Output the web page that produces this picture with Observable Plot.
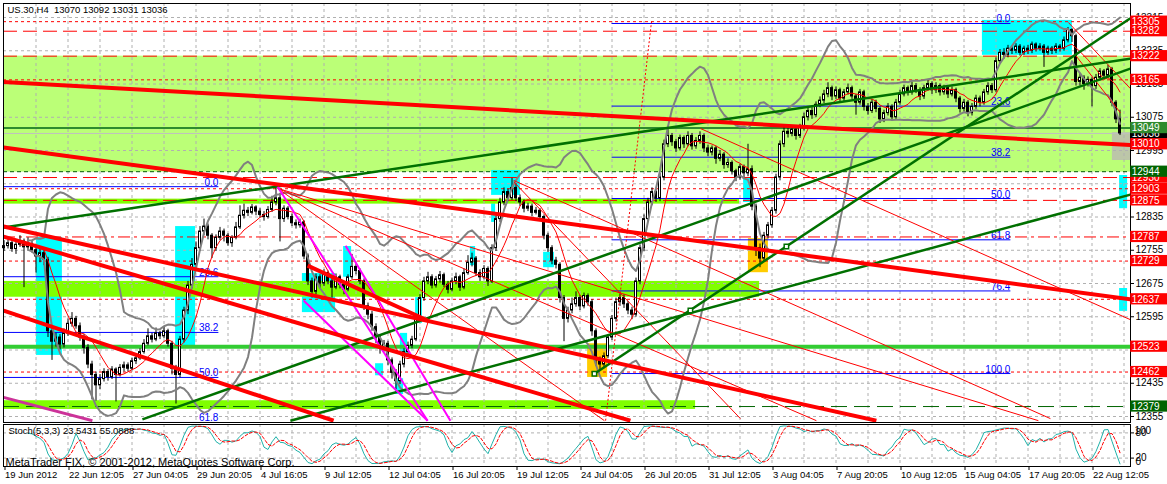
<!DOCTYPE html>
<html>
<head>
<meta charset="utf-8">
<script src="https://cdn.jsdelivr.net/npm/d3@7"></script>
<script src="https://cdn.jsdelivr.net/npm/@observablehq/plot@0.6"></script>
<style>
  body { margin: 0; background: #fff; }
  #chart svg { display: block; }
</style>
</head>
<body>
<div id="chart"></div>
<script>
// H4 bars of US.30, 19 Jun - 23 Aug 2012 (one row = 16 bars)
const open = [
 12760,12765,12772,12758,12768,12776,12762,12770,12755,12740,12748,12732,12560,12535,12545,12528,
 12555,12578,12590,12572,12545,12520,12480,12455,12430,12445,12462,12450,12468,12455,12472,12478,
 12470,12488,12495,12510,12530,12548,12540,12555,12548,12560,12530,12470,12455,12540,12610,12670,
 12720,12760,12800,12812,12790,12760,12785,12800,12790,12772,12785,12810,12838,12850,12845,12858,
 12848,12840,12835,12852,12870,12880,12830,12855,12835,12820,12815,12822,12740,12680,12655,12690,
 12675,12700,12680,12665,12690,12672,12660,12690,12715,12705,12680,12620,12600,12570,12545,12520,
 12530,12490,12460,12440,12480,12510,12525,12540,12590,12640,12680,12690,12670,12685,12695,12672,
 12660,12680,12690,12665,12700,12725,12735,12700,12690,12710,12680,12760,12830,12870,12895,12880,
 12905,12880,12870,12855,12860,12845,12850,12835,12790,12760,12730,12720,12640,12590,12610,12625,
 12640,12620,12645,12630,12560,12490,12480,12500,12545,12590,12630,12640,12625,12610,12600,12680,
 12760,12830,12870,12895,12880,12930,13010,13030,13015,13000,13025,13010,13030,13005,13018,13030,
 13000,12990,13000,12975,12985,12960,12965,12945,12930,12955,12940,12950,12860,12760,12735,12790,
 12815,12850,12930,13010,13040,13035,13045,13030,13050,13075,13090,13080,13105,13115,13130,13145,
 13125,13140,13120,13135,13145,13125,13110,13135,13100,13090,13110,13095,13070,13085,13100,13075,
 13110,13130,13145,13135,13150,13140,13125,13145,13155,13140,13150,13135,13145,13130,13140,13120,
 13095,13110,13085,13100,13120,13110,13135,13150,13140,13210,13230,13225,13240,13235,13245,13230,
 13240,13235,13250,13240,13245,13230,13240,13235,13245,13240,13260,13285,13270,13160,13170,13155,
 13165,13150,13170,13185,13175,13190,13110,13070
];
const high = [
 12778,12780,12781,12774,12790,12782,12785,12776,12760,12758,12755,12738,12570,12555,12552,12566,
 12590,12605,12596,12580,12552,12528,12488,12462,12456,12470,12468,12475,12472,12480,12486,12484,
 12495,12502,12518,12540,12566,12555,12568,12560,12570,12565,12536,12478,12548,12618,12680,12735,
 12775,12812,12830,12818,12795,12792,12810,12806,12795,12790,12822,12862,12866,12858,12865,12862,
 12855,12848,12860,12885,12904,12892,12862,12860,12842,12828,12830,12826,12746,12688,12698,12696,
 12708,12705,12686,12698,12695,12680,12696,12745,12722,12710,12686,12628,12608,12578,12552,12538,
 12536,12496,12468,12488,12518,12534,12548,12598,12648,12690,12702,12696,12692,12704,12700,12680,
 12688,12700,12695,12710,12742,12748,12740,12708,12718,12715,12768,12838,12880,12905,12902,12928,
 12915,12888,12876,12868,12866,12858,12855,12840,12796,12766,12738,12725,12646,12618,12640,12655,
 12646,12652,12650,12636,12566,12498,12508,12552,12598,12640,12650,12648,12632,12618,12688,12768,
 12840,12880,12905,12902,12940,13020,13045,13036,13022,13032,13030,13040,13036,13026,13040,13035,
 13008,13006,13005,12995,12990,12975,12970,12950,12962,12960,13010,12958,12866,12770,12798,12822,
 12858,12938,13018,13050,13048,13055,13050,13058,13085,13100,13098,13112,13124,13140,13158,13150,
 13148,13145,13142,13155,13150,13130,13142,13140,13108,13118,13116,13100,13092,13108,13105,13118,
 13140,13152,13150,13160,13156,13146,13152,13165,13160,13158,13155,13152,13150,13148,13145,13125,
 13118,13115,13108,13128,13126,13142,13158,13156,13218,13238,13240,13248,13246,13252,13250,13246,
 13248,13256,13254,13252,13250,13246,13245,13252,13250,13268,13291,13288,13275,13180,13175,13172,
 13170,13178,13192,13190,13200,13195,13115,13092
];
const low = [
 12752,12758,12750,12745,12762,12665,12756,12748,12700,12725,12718,12545,12490,12522,12515,12520,
 12548,12570,12565,12536,12505,12470,12395,12392,12420,12438,12440,12444,12390,12450,12462,12462,
 12465,12480,12490,12505,12525,12532,12535,12540,12542,12522,12455,12385,12448,12532,12600,12662,
 12712,12752,12790,12780,12735,12752,12778,12775,12765,12762,12780,12805,12830,12836,12840,12838,
 12832,12825,12830,12846,12862,12775,12822,12828,12812,12806,12808,12732,12670,12640,12648,12662,
 12668,12672,12640,12660,12662,12648,12655,12685,12696,12672,12610,12588,12560,12530,12505,12510,
 12478,12445,12420,12432,12472,12502,12518,12535,12582,12632,12672,12662,12664,12676,12665,12650,
 12655,12672,12656,12660,12695,12715,12692,12680,12684,12668,12675,12752,12822,12862,12872,12875,
 12872,12860,12845,12848,12836,12840,12826,12780,12750,12720,12710,12628,12535,12580,12602,12618,
 12610,12614,12620,12548,12476,12466,12470,12494,12538,12582,12620,12615,12600,12588,12594,12672,
 12752,12822,12862,12870,12872,12922,13002,13005,12990,12994,13000,13004,12996,12998,13010,12990,
 12980,12982,12962,12968,12950,12952,12936,12920,12924,12930,12932,12850,12740,12713,12728,12782,
 12808,12842,12922,13002,13025,13028,13020,13024,13042,13066,13070,13074,13098,13108,13122,13115,
 13118,13110,13112,13128,13118,13080,13104,13090,13080,13084,13086,13060,13062,13078,13066,13070,
 13104,13124,13126,13128,13132,13115,13118,13138,13130,13132,13126,13128,13120,13124,13110,13085,
 13088,13076,13078,13094,13100,13104,13128,13132,13134,13202,13215,13218,13226,13228,13222,13224,
 13226,13228,13232,13234,13195,13224,13226,13228,13232,13234,13254,13255,13150,13150,13140,13148,
 13100,13142,13162,13166,13168,13100,13060,13031
];
const close = [
 12765,12772,12758,12768,12776,12762,12770,12755,12740,12748,12732,12560,12535,12545,12528,12555,
 12578,12590,12572,12545,12520,12480,12455,12430,12445,12462,12450,12468,12455,12472,12478,12470,
 12488,12495,12510,12530,12548,12540,12555,12548,12560,12530,12470,12455,12540,12610,12670,12720,
 12760,12800,12812,12790,12760,12785,12800,12790,12772,12785,12810,12838,12850,12845,12858,12848,
 12840,12835,12852,12870,12880,12830,12855,12835,12820,12815,12822,12740,12680,12655,12690,12675,
 12700,12680,12665,12690,12672,12660,12690,12715,12705,12680,12620,12600,12570,12545,12520,12530,
 12490,12460,12440,12480,12510,12525,12540,12590,12640,12680,12690,12670,12685,12695,12672,12660,
 12680,12690,12665,12700,12725,12735,12700,12690,12710,12680,12760,12830,12870,12895,12880,12905,
 12880,12870,12855,12860,12845,12850,12835,12790,12760,12730,12720,12640,12590,12610,12625,12640,
 12620,12645,12630,12560,12490,12480,12500,12545,12590,12630,12640,12625,12610,12600,12680,12760,
 12830,12870,12895,12880,12930,13010,13030,13015,13000,13025,13010,13030,13005,13018,13030,13000,
 12990,13000,12975,12985,12960,12965,12945,12930,12955,12940,12950,12860,12760,12735,12790,12815,
 12850,12930,13010,13040,13035,13045,13030,13050,13075,13090,13080,13105,13115,13130,13145,13125,
 13140,13120,13135,13145,13125,13110,13135,13100,13090,13110,13095,13070,13085,13100,13075,13110,
 13130,13145,13135,13150,13140,13125,13145,13155,13140,13150,13135,13145,13130,13140,13120,13095,
 13110,13085,13100,13120,13110,13135,13150,13140,13210,13230,13225,13240,13235,13245,13230,13240,
 13235,13250,13240,13245,13230,13240,13235,13245,13240,13260,13285,13270,13160,13170,13155,13165,
 13150,13170,13185,13175,13190,13110,13070,13036
];

// one time label every 16 bars
const timeLabels = ["19 Jun 2012","22 Jun 12:05","27 Jun 04:05","29 Jun 20:05","4 Jul 16:05",
  "9 Jul 12:05","12 Jul 04:05","16 Jul 20:05","19 Jul 12:05","24 Jul 04:05","26 Jul 20:05",
  "31 Jul 12:05","3 Aug 04:05","7 Aug 20:05","10 Aug 12:05","15 Aug 04:05","17 Aug 20:05","22 Aug 12:05"];
const priceTicks = [13315,13235,13155,13075,12995,12915,12835,12755,12675,12595,12515,12435,12355];
// 12915 and 12515 sit fully under price tags on the reference
const priceTickLabels = [13315,13235,13155,13075,12995,12835,12755,12675,12595,12435,12355];

// horizontal lines
const redDotLevels = [13305,13165,12903,12729,12637,12462];
const redDashLevels = [13282,13222,12930,12875];
const redDashDotLevels = [12787];
const greenLevel = [13049];
const greenDashLevels = [12944];
const greenLongDashLevels = [12379];
const limeLevel = [12523];
const bidLevel = [13036];

// price tags on the right
const redTags = [13305,13282,13222,13165,13010,12930,12903,12875,12787,12729,12637,12523,12462];
const greenTags = [13049];
const darkGreenTags = [12944,12379];

// zones [bar from, bar to, price low, price high]
const bigZone = [[-1, 283, 12943, 13222]];
const limeZones = [[-1, 183.9, 12866, 12878], [-1, 188.9, 12642, 12680], [-1, 172.9, 12372, 12393]];
const cyanBoxes = [
  [8.1,14.6,12502,12786],[42.9,47.9,12521,12812],[74.6,82.9,12605,12699],[84.9,86.9,12690,12764],
  [92.9,94.9,12453,12482],[97.9,99.9,12408,12446],[99.1,100.9,12502,12555],[102.9,104.6,12579,12641],
  [116.6,117.9,12718,12764],[121.9,129.1,12887,12947],[121.9,122.9,12822,12867],[134.9,137.6,12713,12750],
  [184.9,186.9,12870,12930],[244.6,267.1,13224,13308],[278.9,280.9,12855,12935],[278.9,280.9,12608,12663]
];
const orangeBoxes = [[186.1,191.1,12701,12783],[145.9,150.9,12449,12530]];
const grayBoxes = [[277.1,282,12971,13038]];

// trend lines [bar, price, bar, price]
const thickRed = [
  [-0.1,13160,281.6,13008],[-0.1,13002,281.6,12637],[-0.1,12812,218.1,12345],
  [-0.1,12610,82.4,12345],[-0.1,12788,156.6,12345],[75.9,12718,105.9,12586]
];
const thinRed = [
  [68.4,12904,203.1,12345],[68.4,12904,258.6,12345],[68.4,12904,150.1,12345],
  [174.1,13048,281.6,12588],[127.4,12923,261.6,12350],[127.4,12920,184.1,12350],
  [266.1,13303,281.6,13144],[267.9,13224,279.1,13086]
];
const dottedRed = [[150.4,12345,161.9,13307]];
const greenTrend = [
  [-0.1,12810,281.6,13216],[34.6,12348,281.6,13192],[147.6,12458,281.6,13313],[71.6,12345,281.6,12889]
];
const greenMarks = [[147.6,12458],[171.6,12610],[195.6,12764]];
const magentaLines = [[68.4,12908,105.9,12345],[85.4,12766,111.6,12345],[74.9,12634,105.9,12345]];
const purpleLines = [[-0.1,12401,22.1,12345]];

// Fibonacci retracements
const fib1Levels = [0, 23.6, 38.2, 50, 61.8];
const fib1Span = [-0.1, 53.6];
const fib1Prices = [12908, 11990];
const fib2Levels = [0, 23.6, 38.2, 50, 61.8, 76.4, 100];
const fib2Span = [151.9, 251.6];
const fib2Prices = [13300.6, 12458.4];

const stochText = "Stoch(5,3,3) 23.5431 55.0888";
const copyText = "MetaTrader FIX, \u00a9 2001-2012, MetaQuotes Software Corp.";

// ---------------------------------------------------------------
const W = 1167;
const xDom = [-0.125, 281.625];
const yDom = [12340.6, 13348.7];
const n = close.length;
const bars = close.map((c, i) => ({i, o: open[i], h: high[i], l: low[i], c}));
const gridBars = d3.range(8, 282, 8);
const labelBars = timeLabels.map((d, k) => k * 16);

// bollinger 20/2 and short ma
const bands = [];
for (let i = 6; i < n; i++) {
  const s = close.slice(Math.max(0, i - 19), i + 1);
  const m = d3.mean(s);
  const sd = Math.sqrt(d3.mean(s, v => (v - m) ** 2));
  bands.push({i, up: m + 2 * sd, lo: m - 2 * sd});
}
const ma = [];
for (let i = 4; i < n; i++) ma.push({i, m: d3.mean(close.slice(Math.max(0, i - 7), i + 1))});

// stochastic 5,3,3
const stK = [];
for (let i = 6; i < n; i++) {
  let num = 0, den = 0;
  for (let j = i - 2; j <= i; j++) {
    const hh = d3.max(high.slice(j - 4, j + 1)), ll = d3.min(low.slice(j - 4, j + 1));
    num += close[j] - ll; den += hh - ll;
  }
  stK.push({i, k: den ? num / den * 100 : 50});
}
const stD = stK.slice(2).map((d, j) => ({i: d.i, d: d3.mean(stK.slice(j, j + 3), e => e.k)}));

const fibRows = (levels, p) => levels.map(l => ({l, p: p[0] - l / 100 * (p[0] - p[1])}));
const fib1 = fibRows(fib1Levels, fib1Prices);
const fib2 = fibRows(fib2Levels, fib2Prices);

const seg = (arr, o) => Plot.link(arr, {x1: d => d[0], y1: d => d[1], x2: d => d[2], y2: d => d[3], clip: true, ...o});
const box = (arr, o) => Plot.rect(arr, {x1: d => d[0], x2: d => d[1], y1: d => d[2], y2: d => d[3], clip: true, ...o});
const tag = (arr, color) => [
  Plot.rect(arr, {x1: () => xDom[1] + 0.05, x2: () => xDom[1] + 10, y1: d => d - 13.5, y2: d => d + 13.5, fill: color}),
  Plot.text(arr, {x: () => xDom[1] + 0.3, y: d => d, text: d => String(d), fill: "white", textAnchor: "start", fontSize: 10})
];

const RED = "#ff0000", DKGREEN = "#007000", GRID = "#b0b0b0";
const font = "'Liberation Sans', Arial, sans-serif";

const main = Plot.plot({
  width: W, height: 423,
  marginLeft: 3, marginRight: 37, marginTop: 3, marginBottom: 1,
  x: {domain: xDom, axis: null},
  y: {domain: yDom},
  color: {type: "identity"},
  style: {fontFamily: font, fontSize: "10px", background: "white", overflow: "visible"},
  marks: [
    box(bigZone, {fill: "#bbff77"}),
    box(cyanBoxes, {fill: "#00ffff"}),
    box(orangeBoxes, {fill: "#ffcc00"}),
    box(grayBoxes, {fill: "#bcc6a8"}),
    box(limeZones, {fill: "#80ff00"}),
    Plot.ruleY(priceTicks, {stroke: GRID, strokeDasharray: "3,3"}),
    Plot.ruleX(gridBars, {stroke: GRID, strokeDasharray: "3,3"}),
    Plot.ruleY(limeLevel, {stroke: "#33cc33", strokeWidth: 4}),
    Plot.ruleY(bidLevel, {stroke: "#c0c0c0"}),
    Plot.ruleY(redDotLevels, {stroke: RED, strokeDasharray: "3,3"}),
    Plot.ruleY(redDashLevels, {stroke: RED, strokeDasharray: "14,6"}),
    Plot.ruleY(redDashDotLevels, {stroke: RED, strokeDasharray: "12,4,3,4"}),
    Plot.ruleY(greenLevel, {stroke: "#2e8b2e", strokeWidth: 2}),
    Plot.ruleY(greenDashLevels, {stroke: "#005a00", strokeDasharray: "4,3"}),
    Plot.ruleY(greenLongDashLevels, {stroke: "#006400", strokeDasharray: "16,7"}),
    Plot.link(fib1, {x1: () => fib1Span[0], x2: () => fib1Span[1], y1: "p", y2: "p", stroke: "#0000ff", clip: true}),
    Plot.link(fib2, {x1: () => fib2Span[0], x2: () => fib2Span[1], y1: "p", y2: "p", stroke: "#0000ff", clip: true}),
    Plot.text(fib1, {x: () => fib1Span[1], y: "p", text: d => d.l.toFixed(1), fill: "#0000ff", textAnchor: "end", lineAnchor: "bottom", dy: -1, clip: true}),
    Plot.text(fib2, {x: () => fib2Span[1], y: "p", text: d => d.l.toFixed(1), fill: "#0000ff", textAnchor: "end", lineAnchor: "bottom", dy: -1, clip: true}),
    Plot.ruleX(bars, {x: "i", y1: "l", y2: "h", stroke: "black"}),
    Plot.rect(bars, {x1: d => d.i - 0.25, x2: d => d.i + 0.25, y1: "o", y2: "c",
      fill: d => d.c >= d.o ? "white" : "black", stroke: "black", strokeWidth: 1}),
    Plot.line(bands, {x: "i", y: "up", stroke: "#808080", strokeWidth: 2}),
    Plot.line(bands, {x: "i", y: "lo", stroke: "#808080", strokeWidth: 2}),
    Plot.line(ma, {x: "i", y: "m", stroke: RED, strokeWidth: 1}),
    seg(thinRed, {stroke: RED, strokeWidth: 1}),
    seg(dottedRed, {stroke: RED, strokeWidth: 1, strokeDasharray: "2,2"}),
    seg(greenTrend, {stroke: DKGREEN, strokeWidth: 2.5}),
    seg(magentaLines, {stroke: "#ff00ff", strokeWidth: 2}),
    seg(purpleLines, {stroke: "#cc3399", strokeWidth: 3}),
    seg(thickRed, {stroke: RED, strokeWidth: 4}),
    Plot.dot(greenMarks, {x: d => d[0], y: d => d[1], symbol: "square", r: 2.5, stroke: DKGREEN, fill: "white", strokeWidth: 1.5}),
    Plot.text([`US.30,H4\u00a0\u00a0${open[n - 1]} ${high[n - 1]} ${low[n - 1]} ${close[n - 1]}`],
      {frameAnchor: "top-left", dx: 4, dy: 3, fontSize: 9.5, fill: "black"}),
    Plot.frame({stroke: "black"}),
    Plot.axisY({anchor: "right", ticks: priceTickLabels, tickFormat: d => String(d), tickSize: 3, tickPadding: 2,
      textAnchor: "start", fontSize: 10, label: null}),
    ...tag(bidLevel, "black"),
    ...tag(redTags, RED),
    ...tag(greenTags, "#2e8b2e"),
    ...tag(darkGreenTags, "#006400")
  ]
});

const stoch = Plot.plot({
  width: W, height: 61,
  marginLeft: 3, marginRight: 37, marginTop: 1, marginBottom: 18,
  x: {domain: xDom},
  y: {domain: [0, 100]},
  style: {fontFamily: font, fontSize: "10px", background: "white", overflow: "visible"},
  marks: [
    Plot.ruleY([20, 80], {stroke: GRID, strokeDasharray: "3,3"}),
    Plot.ruleX(gridBars, {stroke: GRID, strokeDasharray: "3,3"}),
    Plot.line(stK, {x: "i", y: "k", stroke: "#20b2aa", strokeWidth: 1}),
    Plot.line(stD, {x: "i", y: "d", stroke: RED, strokeWidth: 1, strokeDasharray: "3,2"}),
    Plot.text([stochText], {frameAnchor: "top-left", dx: 5, dy: 3, fontSize: 9.5, fill: "black"}),
    Plot.text([copyText], {frameAnchor: "bottom-left", dx: 2, dy: -1, fontSize: 11, fill: "black"}),
    Plot.frame({stroke: "black"}),
    Plot.axisX({ticks: labelBars, tickFormat: d => timeLabels[d / 16], tickSize: 4, tickPadding: 1,
      textAnchor: "start", dx: 1, fontSize: 9.5, label: null}),
    Plot.axisY({anchor: "right", ticks: [20, 80], tickFormat: d => String(d), tickSize: 3, tickPadding: 2,
      textAnchor: "start", fontSize: 10, label: null}),
    Plot.text(["100"], {frameAnchor: "top-right", textAnchor: "start", lineAnchor: "top", dx: 4, dy: 2, fontSize: 10}),
    Plot.text(["0"], {frameAnchor: "bottom-right", textAnchor: "start", lineAnchor: "bottom", dx: 5, dy: -2, fontSize: 10})
  ]
});

const el = document.getElementById("chart");
el.append(main);
el.append(stoch);
</script>
</body>
</html>
